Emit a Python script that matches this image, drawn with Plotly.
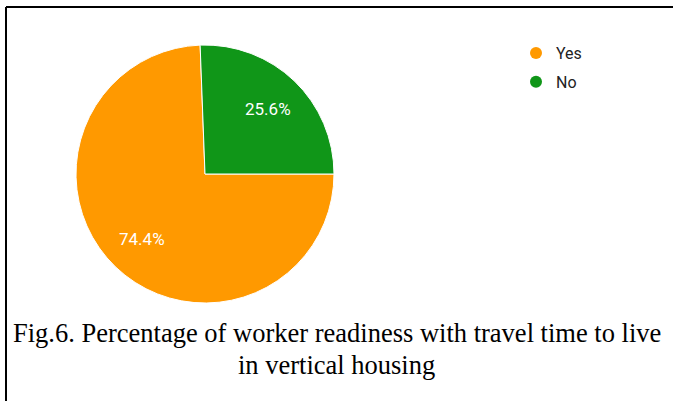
import math
import plotly.graph_objects as go

# Survey answers: readiness to live in vertical housing given travel time
labels = ["Yes", "No"]
values = [74.4, 25.6]
colors = ["#FF9900", "#109618"]

caption_lines = [
    "Fig.6. Percentage of worker readiness with travel time to live",
    "in vertical housing",
]

W, H = 673, 401

# Pie placement (pixels): bounding square of the pie
PX0, PX1 = 76, 334
PY0, PY1 = 45, 303
ROTATION = 90  # first slice starts at 3 o'clock, going clockwise

fig = go.Figure()

fig.add_trace(go.Pie(
    labels=labels,
    values=values,
    sort=False,
    direction="clockwise",
    rotation=ROTATION,
    marker=dict(colors=colors, line=dict(color="white", width=1)),
    textinfo="none",
    showlegend=False,
    hoverinfo="label+percent",
    domain=dict(x=[PX0 / W, PX1 / W], y=[(H - PY1) / H, (H - PY0) / H]),
))

# Round legend markers
for name, col in zip(labels, colors):
    fig.add_trace(go.Scatter(
        x=[None], y=[None], mode="markers", name=name, legendgroup=name,
        marker=dict(symbol="circle", size=15, color=col),
    ))

# Percentage labels on the bisector of each slice, at 70% of the radius
cx, cy = (PX0 + PX1) / 2, (PY0 + PY1) / 2
r = min(PX1 - PX0, PY1 - PY0) / 2
total = sum(values)
annotations = []
start = ROTATION
for v in values:
    sweep = 360 * v / total
    mid = math.radians(start + sweep / 2)  # clockwise from 12 o'clock
    px = cx + 0.7 * r * math.sin(mid)
    py = cy - 0.7 * r * math.cos(mid)
    annotations.append(dict(
        text=f"{100 * v / total:.1f}%", x=px / W, y=(H - py) / H,
        xref="paper", yref="paper", xanchor="center", yanchor="middle",
        showarrow=False,
        font=dict(family="Roboto", size=17, color="white"),
    ))
    start += sweep

for line, ypx in zip(caption_lines, [333, 365]):
    annotations.append(dict(
        text=line, x=0.5, y=(H - ypx) / H, xref="paper", yref="paper",
        xanchor="center", yanchor="middle", showarrow=False,
        font=dict(family="Liberation Serif", size=26.5, color="black"),
    ))

fig.update_layout(
    width=W, height=H,
    margin=dict(l=0, r=0, t=0, b=0),
    paper_bgcolor="white",
    plot_bgcolor="white",
    xaxis=dict(visible=False),
    yaxis=dict(visible=False),
    legend=dict(
        x=516 / W, y=(H - 36) / H, xanchor="left", yanchor="top",
        font=dict(family="Roboto", size=16, color="#222222"),
        itemsizing="constant", tracegroupgap=5,
        bgcolor="rgba(0,0,0,0)",
    ),
    annotations=annotations,
    shapes=[
        dict(type="line", xref="paper", yref="paper",
             x0=6 / W, x1=1, y0=(H - 7) / H, y1=(H - 7) / H,
             line=dict(color="black", width=2)),
        dict(type="line", xref="paper", yref="paper",
             x0=6 / W, x1=6 / W, y0=0, y1=(H - 7) / H,
             line=dict(color="black", width=2)),
    ],
)

fig.write_html("out.html")
